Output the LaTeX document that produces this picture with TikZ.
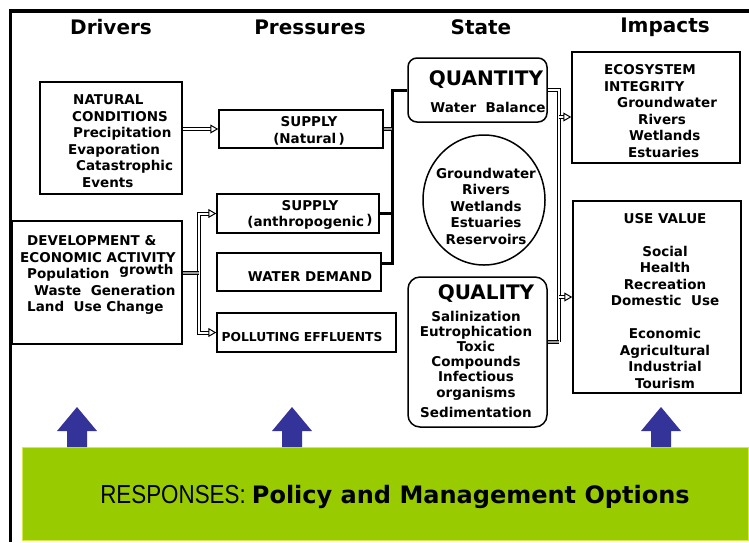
\documentclass[tikz,border=0pt]{standalone}
\usepackage{fontspec}
\setmainfont{DejaVu Sans}
\newfontfamily\respfont[FakeStretch=0.86]{Liberation Sans}
\usetikzlibrary{arrows.meta,calc,shapes.geometric}
\definecolor{respgreen}{HTML}{99CC00}
\definecolor{upblue}{HTML}{333399}
\tikzset{
  box/.style={draw,line width=1.5pt,inner sep=0pt},
  rbox/.style={box,rounded corners=9pt},
  head/.style={font=\bfseries\fontsize{20}{24}\selectfont},
  txt/.style={font=\bfseries\fontsize{13.5}{16.5}\selectfont,inner sep=0pt},
  dbl/.style={line width=1pt,double distance=2pt},
  gdbl/.style={dbl,double=black!40},
  dblarrow/.style={dbl,-{Triangle[open,length=8pt,width=9pt]}},
  link/.style={line width=3pt},
}

\begin{document}
\begin{tikzpicture}[x=1pt,y=-1pt]
\useasboundingbox (0,0) rectangle (749,542);
\draw[line width=3.5pt] (10.5,542) |- (749,11); %外框

% 标题
\node[head] (drv) at (111,27) {Drivers};
\node[head] (pres) at (310,27) {Pressures};
\node[head] (st) at (481,27) {State};
\node[head] (imp) at (665,27) {Impacts};

% Drivers
\node[box,minimum width=142,minimum height=112] (natcond) at (111,138) {};
\node[txt,anchor=west,align=left] (natcond-t) at (68,141)
  {\hspace*{5pt}NATURAL\\\hspace*{4pt}CONDITIONS\\\hspace*{5pt}Precipitation\\Evaporation\\\hspace*{8pt}Catastrophic\\\hspace*{14pt}Events};
\node[box,minimum width=170,minimum height=123] (devel) at (97,282.5) {};
\node[txt,anchor=west,align=left] (devel-t) at (20,275)
  {\hspace*{7pt}DEVELOPMENT \&\\ECONOMIC ACTIVITY\\\hspace*{7pt}Population\hspace{10pt}\raisebox{4pt}{growth}\\\hspace*{14pt}Waste~~Generation\\\hspace*{7pt}Land~~Use~Change};

% Pressures
\node[box,minimum width=164,minimum height=38] (supnat) at (301,129) {};
\node[txt,align=center] (supnat-t) at (309,131) {SUPPLY\\(Natural\,)};
\node[box,minimum width=162,minimum height=39] (supanth) at (298,213.5) {};
\node[txt,align=center] (supanth-t) at (310,215) {SUPPLY\\(anthropogenic\,\raisebox{2pt}{)}};
\node[box,minimum width=164,minimum height=38] (waterdem) at (299,272) {};
\node[txt] (waterdem-t) at (310,277) {WATER DEMAND};
\node[box,minimum width=179,minimum height=39] (pollut) at (306.5,332.5) {};
\node[txt,font=\bfseries\fontsize{12.3}{15}\selectfont] (pollut-t) at (302,337) {POLLUTING EFFLUENTS};

% State
\node[rbox,minimum width=139,minimum height=64] (quant) at (477.5,90) {};
\node[head] (quant-t) at (486,80) {QUANTITY};
\node[txt] (quant-s) at (488,107) {Water~~Balance};
\node[draw,line width=1.5pt,ellipse,minimum width=122,minimum height=130,inner sep=0pt] (water) at (484,200) {};
\node[txt,align=center] (water-t) at (486,206) {Groundwater\\Rivers\\Wetlands\\Estuaries\\Reservoirs};
\node[rbox,rounded corners=12pt,minimum width=139,minimum height=150] (qual) at (477.5,352) {};
\node[head] (qual-t) at (486,294) {QUALITY};
\node[txt,align=center,font=\bfseries\fontsize{13.5}{15.2}\selectfont] (qual-s) at (476,364)
  {Salinization\\Eutrophication\\Toxic\\Compounds\\Infectious\\organisms\\[4.8pt]Sedimentation};

% Impacts
\node[box,minimum width=168,minimum height=111] (ecosys) at (656,107.5) {};
\node[txt,anchor=west,align=left] (ecosys-t) at (604,111)
  {ECOSYSTEM\\INTEGRITY\\\hspace*{13pt}Groundwater\\\hspace*{34pt}Rivers\\\hspace*{25pt}Wetlands\\\hspace*{24pt}Estuaries};
\node[box,minimum width=168,minimum height=192] (usev) at (657,297) {};
\node[txt,align=center] (usev-t) at (665,301)
  {USE VALUE\\[16.5pt]Social\\Health\\Recreation\\Domestic~~Use\\[16.5pt]Economic\\Agricultural\\Industrial\\Tourism};

% 连线
\draw[dblarrow] (natcond.east |- supnat.west) -- (supnat.west);
\coordinate (split) at (199,273);
\draw[dblarrow] (split) |- (supanth.west);
\draw[dblarrow] (split) |- (pollut.west);
\draw[gdbl] (devel.east |- split) -- (split);
\coordinate (merge) at (392,263);
\draw[link] (merge -| waterdem.east) -- (merge) |- (quant.west);
\draw[link] (supanth.east) -- (supanth.east -| merge);
\draw[gdbl] (supnat.east) -- (supnat.east -| merge);
\coordinate (spine) at (559,342);
\draw[dbl] (quant.east) -| (spine);
\draw[gdbl] (spine -| qual.east) -- (spine);
\coordinate (toeco) at (559,117);
\coordinate (touse) at (559,297);
\draw[dblarrow] (toeco) -- (toeco -| ecosys.west);
\draw[dblarrow] (touse) -- (touse -| usev.west);

% Responses
\node[fill=respgreen,draw=respgreen!60!yellow!70!white,line width=1pt,minimum width=726,minimum height=93,inner sep=0pt,anchor=north west] (resp) at (22,447) {};
\node[inner sep=0pt] (resp-t) at (395,497)
  {{\respfont\fontsize{26}{30}\selectfont RESPONSES: }{\bfseries\fontsize{24}{30}\selectfont Policy and Management Options}};
\foreach \x in {77,292,661}
  \fill[upblue] (\x-10,447) -- (\x-10,431) -- (\x-20,431) -- (\x,407) -- (\x+20,431) -- (\x+10,431) -- (\x+10,447) -- cycle; %蓝色箭头
\end{tikzpicture}
\end{document}
